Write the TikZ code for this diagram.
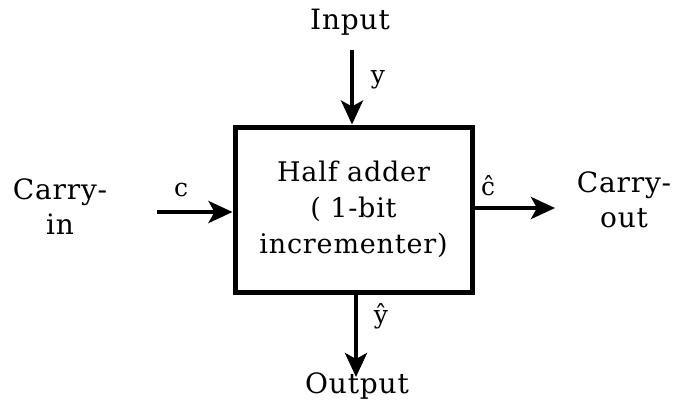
\documentclass[tikz,border=0pt]{standalone}
\usepackage{fontspec}
\setmainfont{DejaVu Serif}[LetterSpace=3]
\usetikzlibrary{arrows.meta}
\begin{document}
\begin{tikzpicture}[x=1pt,y=-1pt,
  lbl/.style={font=\fontsize{28}{35}\selectfont, inner sep=0pt, align=center},
  sym/.style={font=\fontsize{25}{26}\selectfont, inner sep=0pt},
  conn/.style={line width=4pt, -{Stealth[length=24pt,width=22pt,inset=6pt]}}]
\useasboundingbox (0,0) rectangle (683,408);
\node[draw, line width=5pt, minimum width=237pt, minimum height=165pt, inner sep=0pt,
      font=\fontsize{27}{36}\selectfont, align=center] (box) at (353.5,209.5)
  {Half adder\\( 1-bit\\incrementer)};
\node[lbl] (input) at (350,22) {Input};
\coordinate (inS) at (352,50);
\draw[conn] (inS) -- (box.north -| inS);
\node[sym] (ylab) at (378,80) {y};
\node[lbl] (cin) at (60,207) {Carry-\\in};
\coordinate (cS) at (157,212);
\draw[conn] (cS) -- (box.west |- cS);
\node[sym] (clab) at (181,190) {c};
\coordinate (coE) at (555,208);
\draw[conn] (box.east |- coE) -- (coE);
\node[sym] (chat) at (488,186) {ĉ};
\node[lbl] (cout) at (624,200) {Carry-\\out};
\coordinate (outE) at (356,377);
\draw[conn] (box.south -| outE) -- (outE);
\node[sym] (yhat) at (381,316) {ŷ};
\node[lbl] (output) at (357,386) {Output};
\end{tikzpicture}
\end{document}
